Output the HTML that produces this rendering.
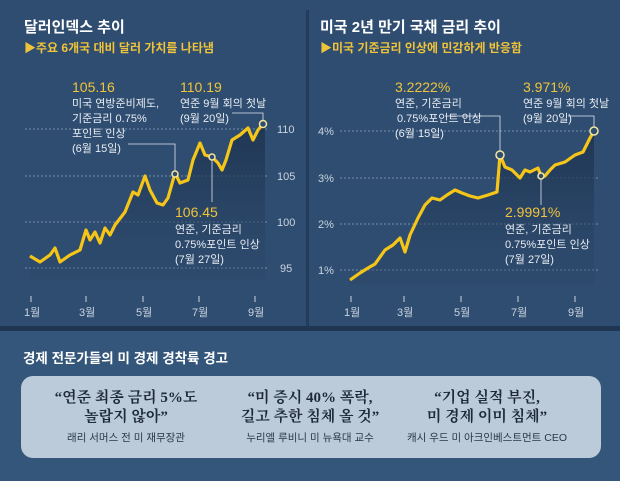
<!DOCTYPE html>
<html><head><meta charset="utf-8"><style>
body{margin:0;width:620px;height:481px;overflow:hidden;background:#34567a;font-family:"Liberation Sans","Noto Sans CJK KR",sans-serif;}
</style></head><body>
<svg width="620" height="481" xmlns="http://www.w3.org/2000/svg" style="position:absolute;left:0;top:0">
<defs><linearGradient id="g" x1="0" y1="0" x2="0" y2="1"><stop offset="0" stop-color="#1e3350" stop-opacity="0.9"/><stop offset="1" stop-color="#2a4567" stop-opacity="0.3"/></linearGradient></defs>
<rect x="0" y="0" width="620" height="330" fill="#2f4d70"/>
<rect x="0" y="326" width="620" height="5" fill="#1f3652"/>
<rect x="306" y="10" width="3" height="316" fill="#233c5b"/>
<g font-size="10.5" fill="#dfe6ee">
<text x="24" y="32" font-size="15" font-weight="bold" fill="#fff">달러인덱스 추이</text>
<text x="24" y="52" font-size="12" font-weight="bold" fill="#f0c43a">▶주요 6개국 대비 달러 가치를 나타냄</text>
<text x="320" y="32" font-size="15" font-weight="bold" fill="#fff">미국 2년 만기 국채 금리 추이</text>
<text x="320" y="52" font-size="12" font-weight="bold" fill="#f0c43a">▶미국 기준금리 인상에 민감하게 반응함</text>
</g>
<g stroke="#8fa5bd" stroke-width="0.8" stroke-dasharray="2,2">
<line x1="25" y1="129" x2="268" y2="129"/><line x1="25" y1="176" x2="268" y2="176"/><line x1="25" y1="222" x2="268" y2="222"/><line x1="25" y1="268" x2="268" y2="268"/>
<line x1="340" y1="131" x2="600" y2="131"/><line x1="340" y1="178" x2="600" y2="178"/><line x1="340" y1="224" x2="600" y2="224"/><line x1="340" y1="270" x2="600" y2="270"/>
</g>
<g font-size="11" fill="#c9d4e0">
<text x="277" y="133">110</text><text x="277" y="180">105</text><text x="277" y="226">100</text><text x="280" y="272">95</text>
<text x="318" y="135">4%</text><text x="318" y="182">3%</text><text x="318" y="228">2%</text><text x="318" y="274">1%</text>
<text x="24" y="316">1월</text><text x="79" y="316">3월</text><text x="136" y="316">5월</text><text x="192" y="316">7월</text><text x="248" y="316">9월</text>
<text x="344" y="316">1월</text><text x="397" y="316">3월</text><text x="454" y="316">5월</text><text x="511" y="316">7월</text><text x="568" y="316">9월</text>
</g>
<g stroke="#c9d4e0" stroke-width="1">
<line x1="31" y1="296" x2="31" y2="302"/><line x1="86" y1="296" x2="86" y2="302"/><line x1="143" y1="296" x2="143" y2="302"/><line x1="199" y1="296" x2="199" y2="302"/><line x1="255" y1="296" x2="255" y2="302"/>
<line x1="351" y1="296" x2="351" y2="302"/><line x1="404" y1="296" x2="404" y2="302"/><line x1="461" y1="296" x2="461" y2="302"/><line x1="518" y1="296" x2="518" y2="302"/><line x1="575" y1="296" x2="575" y2="302"/>
</g>
<polygon fill="url(#g)" points="30,256 40,262 50,255 55,248 60,262 70,255 80,250 86,230 90,240 95,232 100,243 105,228 110,235 115,225 125,212 133,192 138,195 145,176 150,190 157,203 163,205 168,198 175,173 180,183 188,180 193,160 200,143 205,155 212,157 218,163 222,170 226,160 232,140 240,135 248,128 253,140 258,130 263,124 265,124 265,280 30,280"/>
<polyline fill="none" stroke="#f5c518" stroke-width="3.2" stroke-linejoin="round" points="30,256 40,262 50,255 55,248 60,262 70,255 80,250 86,230 90,240 95,232 100,243 105,228 110,235 115,225 125,212 133,192 138,195 145,176 150,190 157,203 163,205 168,198 175,173 180,183 188,180 193,160 200,143 205,155 212,157 218,163 222,170 226,160 232,140 240,135 248,128 253,140 258,130 263,124"/>
<polygon fill="url(#g)" points="350,280 360,273 368,268 375,264 385,250 393,245 400,238 405,252 410,235 418,218 425,205 432,198 440,200 447,195 455,190 462,193 470,196 478,198 488,195 497,192 500,155 505,167 512,170 520,178 525,170 530,172 538,168 541,176 545,176 550,170 555,165 565,162 575,155 583,152 590,138 594,131 594,285 350,285"/>
<polyline fill="none" stroke="#f5c518" stroke-width="3.2" stroke-linejoin="round" points="350,280 360,273 368,268 375,264 385,250 393,245 400,238 405,252 410,235 418,218 425,205 432,198 440,200 447,195 455,190 462,193 470,196 478,198 488,195 497,192 500,155 505,167 512,170 520,178 525,170 530,172 538,168 541,176 545,176 550,170 555,165 565,162 575,155 583,152 590,138 594,131"/>
<g fill="none" stroke="#dfe6ee" stroke-width="0.8">
<polyline points="128,144 175,144 175,172"/><polyline points="212,157 212,202"/><polyline points="232,113 263,113 263,122"/>
<polyline points="445,116 500,116 500,152"/><polyline points="541,176 541,205"/><polyline points="568,116 594,116 594,128"/>
</g>
<g fill="#2f4d70" stroke="#f5e6a0" stroke-width="1.5">
<circle cx="175" cy="174" r="3"/><circle cx="212" cy="157" r="3"/><circle cx="263" cy="124" r="3.5"/>
<circle cx="500" cy="155" r="4"/><circle cx="541" cy="176" r="3"/><circle cx="594" cy="131" r="4"/>
</g>
<g font-size="11" fill="#e8edf3">
<text x="72" y="92" font-size="14" fill="#f0c43a">105.16</text>
<text x="72" y="107">미국 연방준비제도,</text><text x="72" y="122">기준금리 0.75%</text><text x="72" y="137">포인트 인상</text><text x="72" y="152">(6월 15일)</text>
<text x="180" y="92" font-size="14" fill="#f0c43a">110.19</text>
<text x="180" y="107">연준 9월 회의 첫날</text><text x="180" y="122">(9월 20일)</text>
<text x="175" y="217" font-size="14" fill="#f0c43a">106.45</text>
<text x="175" y="233">연준, 기준금리</text><text x="175" y="248">0.75%포인트 인상</text><text x="175" y="263">(7월 27일)</text>
<text x="395" y="92" font-size="14" fill="#f0c43a">3.2222%</text>
<text x="395" y="107">연준, 기준금리</text><text x="397" y="122">0.75%포인트 인상</text><text x="395" y="137">(6월 15일)</text>
<text x="523" y="92" font-size="14" fill="#f0c43a">3.971%</text>
<text x="523" y="107">연준 9월 회의 첫날</text><text x="523" y="122">(9월 20일)</text>
<text x="505" y="217" font-size="14" fill="#f0c43a">2.9991%</text>
<text x="505" y="233">연준, 기준금리</text><text x="505" y="248">0.75%포인트 인상</text><text x="505" y="263">(7월 27일)</text>
</g>
<text x="23" y="363" font-size="13.5" font-weight="bold" fill="#fff">경제 전문가들의 미 경제 경착륙 경고</text>
<rect x="21" y="376" width="580" height="82" rx="12" fill="#bccbd9"/>
<g font-family="'Liberation Serif','Noto Serif CJK SC',serif" font-size="15" font-weight="bold" fill="#1e2a38" text-anchor="middle">
<text x="126" y="402">“연준 최종 금리 5%도</text><text x="126" y="421">놀랍지 않아”</text>
<text x="310" y="402">“미 증시 40% 폭락,</text><text x="310" y="421">길고 추한 침체 올 것”</text>
<text x="487" y="402">“기업 실적 부진,</text><text x="487" y="421">미 경제 이미 침체”</text>
</g>
<g font-size="10.5" fill="#2b3846" text-anchor="middle">
<text x="126" y="441">래리 서머스 전 미 재무장관</text><text x="310" y="441">누리엘 루비니 미 뉴욕대 교수</text><text x="487" y="441">캐시 우드 미 아크인베스트먼트 CEO</text>
</g>
</svg>
</body></html>
